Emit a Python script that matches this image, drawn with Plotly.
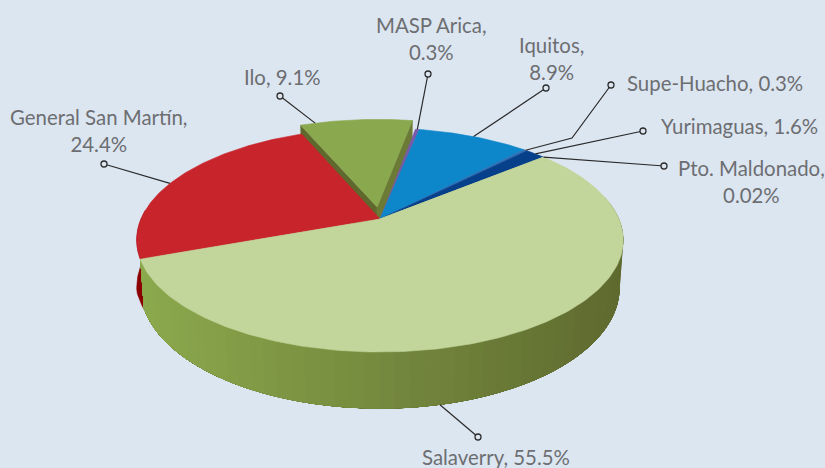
import numpy as np
import plotly.graph_objects as go

# ---- data (clockwise from the exploded slice) ----
ports = ["Ilo", "MASP Arica", "Iquitos", "Supe-Huacho", "Yurimaguas", "Pto. Maldonado", "Salaverry", "General San Martín"]
shares = [9.1, 0.3, 8.9, 0.3, 1.6, 0.02, 55.5, 24.4]
share_text = ["9.1%", "0.3%", "8.9%", "0.3%", "1.6%", "0.02%", "55.5%", "24.4%"]
top_colors = ["#8aa84e", "#7a5aa8", "#0d87c9", "#2f6fb5", "#07408a", "#c2d59b", "#c2d59b", "#c8242b"]

# ---- style / layout ----
BG = "#dce6f1"
TEXT = "#6d6e71"
CX, APEX_Y, RX, BACK, PERSP = 380.0, 219.0, 239.0, -67.0, 0.1875
DEPTH, BOTTOM_SCALE = 46.0, 0.985
START_ANGLE = -22.6
EXPLODE = 0.115

total = sum(shares)
spans = [s / total * 360 for s in shares]
starts = START_ANGLE + np.concatenate([[0], np.cumsum(spans)[:-1]])


def project(u, v, depth=0.0):
    u, v = np.asarray(u, float), np.asarray(v, float)
    w = 1 + PERSP * v
    sc = 1 + (BOTTOM_SCALE - 1) * (depth > 0)
    return CX + sc * RX * u / w, (APEX_Y + BACK * v) / w + depth / w


def rim(a0, a1, n=None, ou=0.0, ov=0.0, depth=0.0):
    n = n or max(2, int(abs(a1 - a0)) + 2)
    t = np.radians(np.linspace(a0, a1, n))
    return project(np.sin(t) + ou, np.cos(t) + ov, depth)


def poly(fig, x, y, color, lw=0.6):
    fig.add_trace(go.Scatter(x=np.r_[x, x[0]], y=np.r_[y, y[0]], mode="lines", fill="toself",
                             fillcolor=color, line=dict(color=color, width=lw),
                             hoverinfo="skip", showlegend=False))


def mix(c0, c1, f):
    a = [int(c0[i:i + 2], 16) for i in (1, 3, 5)]
    b = [int(c1[i:i + 2], 16) for i in (1, 3, 5)]
    return "rgb(%d,%d,%d)" % tuple(round(p + (q - p) * f) for p, q in zip(a, b))


fig = go.Figure()

# exploded slice: cut faces first, everything else is painted over them
mid0 = np.radians(starts[0] + spans[0] / 2)
ou, ov = EXPLODE * np.sin(mid0), EXPLODE * np.cos(mid0)
for ang, col in ((starts[0], "#5f692e"), (starts[0] + spans[0], "#6b7a35")):
    t = np.radians(ang)
    xa, ya = project(ou, ov)
    xr, yr = project(np.sin(t) + ou, np.cos(t) + ov)
    xa2, ya2 = project(ou, ov, DEPTH)
    xr2, yr2 = project(np.sin(t) + ou, np.cos(t) + ov, DEPTH)
    poly(fig, np.array([xa, xr, xr2, xa2]), np.array([ya, yr, yr2, ya2]), col)

# outer walls
sal = ports.index("Salaverry")
sal_a0, sal_a1 = starts[sal], starts[sal] + spans[sal]
xt, yt = rim(sal_a1 - 1, sal_a1 + 25, 30)
xb, yb = rim(sal_a1 - 1, sal_a1 + 25, 30, depth=DEPTH)
flare = np.clip(np.linspace(0, 3, 30), 0, 1) * 0.015  # red wall's lower rim bulges past the green wall
xb = CX + (xb - CX) * (1 + flare)
poly(fig, np.r_[xt, xb[::-1]], np.r_[yt, yb[::-1]], "#8b0000")

# gradient wall: each band runs to the end of the wall, so later bands overpaint without seams
edges = np.arange(78, sal_a1, 3.0)
for k, a0 in enumerate(edges):
    a_from, a_to = (a0, sal_a1)
    xt, yt = rim(a_from, a_to, 90)
    xb, yb = rim(a_from, a_to, 90, depth=DEPTH)
    x_mid = float(rim(a0, a0 + 3.0, 2)[0].mean())
    f = (x_mid - 140) / 480
    poly(fig, np.r_[xt, xb[::-1]], np.r_[yt, yb[::-1]], mix("#8ba94d", "#5f6a2f", float(np.clip(f, 0, 1))), lw=0)

# top faces
order = [7, 1, 2, 3, 4, 5, 6, 0]
for i in order:
    o = (ou, ov) if i == 0 else (0.0, 0.0)
    xr, yr = rim(starts[i], starts[i] + spans[i], ou=o[0], ov=o[1])
    xa, ya = project(o[0], o[1])
    poly(fig, np.r_[xa, xr], np.r_[ya, yr], top_colors[i])

# leader lines
leader_ends = {
    "Ilo": (280, 96), "MASP Arica": (428, 74), "Iquitos": (546, 88),
    "Supe-Huacho": (611, 85), "Yurimaguas": (643, 131), "Pto. Maldonado": (664, 166),
    "Salaverry": (478, 437), "General San Martín": (104, 164),
}
leader_elbows = {"Supe-Huacho": [(572, 138)]}
leader_shift = {"Ilo": -12.0, "General San Martín": -3.0}
for i, name in enumerate(ports):
    a = starts[i] + spans[i] / 2 + leader_shift.get(name, 0.0)
    o = (ou, ov) if i == 0 else (0.0, 0.0)
    d = 0.0
    if name == "Salaverry":
        a, d = 168.0, DEPTH
    t = np.radians(a)
    sx, sy = project(np.sin(t) + o[0], np.cos(t) + o[1], d)
    mids = leader_elbows.get(name, [])
    xs = [float(sx)] + [p[0] for p in mids] + [leader_ends[name][0]]
    ys = [float(sy)] + [p[1] for p in mids] + [leader_ends[name][1]]
    fig.add_trace(go.Scatter(x=xs, y=ys, mode="lines", line=dict(color="#2b2a2a", width=1.2),
                             hoverinfo="skip", showlegend=False))
    fig.add_trace(go.Scatter(x=[xs[-1]], y=[ys[-1]], mode="markers",
                             marker=dict(size=6, color=BG, line=dict(color="#2b2a2a", width=1.3)),
                             hoverinfo="skip", showlegend=False))

# labels
label_pos = {
    "Ilo": (282, 77, False), "MASP Arica": (431, 38, True), "Iquitos": (551, 58, True),
    "Supe-Huacho": (715, 83, False), "Yurimaguas": (739, 126, False),
    "Pto. Maldonado": (751, 181, True), "Salaverry": (496, 457, False),
    "General San Martín": (99, 130, True),
}
for name, txt in zip(ports, share_text):
    x, y, wrap = label_pos[name]
    fig.add_annotation(x=x, y=y, text=f"{name},{'<br>' if wrap else ' '}{txt}", showarrow=False,
                       xanchor="center", yanchor="middle", align="center",
                       font=dict(family="Lato", size=20.4, color=TEXT))

fig.update_layout(
    width=825, height=468, margin=dict(l=0, r=0, t=0, b=0),
    paper_bgcolor=BG, plot_bgcolor=BG, showlegend=False,
    xaxis=dict(range=[0, 825], visible=False, fixedrange=True),
    yaxis=dict(range=[468, 0], visible=False, fixedrange=True),
)
fig.write_html("out.html", config={"displayModeBar": False},
               post_script="document.body.style.margin='0';document.body.style.background='%s';" % BG)
